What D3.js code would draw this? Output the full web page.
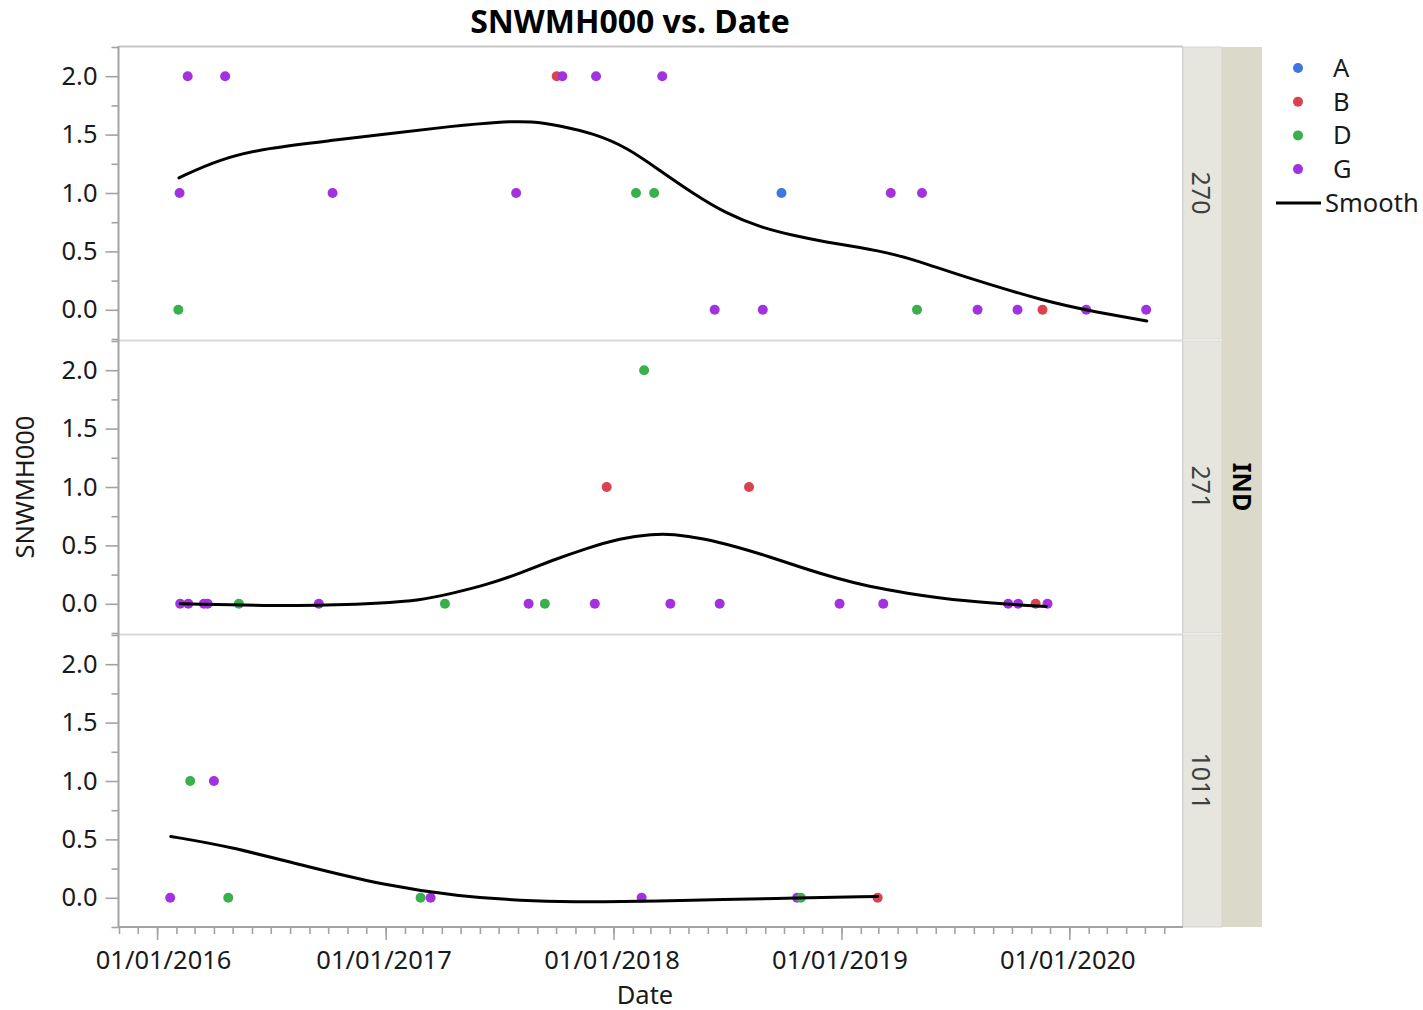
<!DOCTYPE html>
<html><head><meta charset="utf-8">
<script src="https://cdn.jsdelivr.net/npm/d3@7"></script>
<style>
body{margin:0;background:#fff}
text{font-family:"Noto Sans","Open Sans",sans-serif;fill:#1a1a1a}
</style>
</head><body>
<svg id="chart" width="1423" height="1010"></svg>
<script>
// ---------- DATA ----------
const groups = ["A", "B", "D", "G"];
const groupColors = ["#3f76e0", "#da4250", "#39b04b", "#a232e0"];
const panelNames = ["270", "271", "1011"];
const facetName = "IND";
const yTickValues = [0, 0.5, 1.0, 1.5, 2.0];
const yMinorValues = [-0.25, 0.25, 0.75, 1.25, 1.75, 2.25];
const xTickDates = ["2016-01-01", "2017-01-01", "2018-01-01", "2019-01-01", "2020-01-01"];

// panel 270
const p270Dates = ["2016-02-04","2016-02-06","2016-02-19","2016-04-19","2016-10-08","2017-07-29","2017-10-02","2017-10-11","2017-12-04","2018-02-06","2018-03-07","2018-03-20","2018-06-12","2018-08-28","2018-09-27","2019-03-21","2019-05-02","2019-05-10","2019-08-07","2019-10-10","2019-11-19","2020-01-28","2020-05-03"];
const p270Values = [0,1,2,2,1,1,2,2,2,1,1,2,0,0,1,1,0,1,0,0,0,0,0];
const p270Groups = ["D","G","G","G","G","G","B","G","G","D","D","G","G","G","A","G","D","G","G","G","B","G","G"];

// panel 271
const p271Dates = ["2016-02-07","2016-02-20","2016-03-16","2016-03-22","2016-05-11","2016-09-16","2017-04-06","2017-08-18","2017-09-13","2017-12-02","2017-12-21","2018-02-19","2018-04-02","2018-06-20","2018-08-06","2018-12-29","2019-03-09","2019-09-25","2019-10-11","2019-11-08","2019-11-27"];
const p271Values = [0,0,0,0,0,0,0,0,0,0,1,2,0,0,1,0,0,0,0,0,0];
const p271Groups = ["G","G","G","G","D","G","D","G","D","G","B","D","G","G","B","G","G","G","G","B","G"];

// panel 1011
const p1011Dates = ["2016-01-22","2016-02-23","2016-04-01","2016-04-24","2017-02-26","2017-03-14","2018-02-15","2018-10-22","2018-10-28","2019-02-28"];
const p1011Values = [0,1,1,0,0,0,0,0,0,0];
const p1011Groups = ["G","D","G","D","D","G","G","G","D","B"];

// smoother curves
const s270Dates = ["2016-02-05","2016-04-10","2016-06-24","2016-10-08","2017-01-24","2017-04-14","2017-07-02","2017-08-24","2017-10-07","2017-11-30","2018-01-22","2018-03-16","2018-05-09","2018-07-01","2018-08-24","2018-10-16","2018-12-08","2019-01-30","2019-03-25","2019-05-17","2019-07-10","2019-11-26","2020-02-14","2020-05-04"];
const s270Values = [1.13,1.29,1.385,1.45,1.52,1.57,1.61,1.615,1.577,1.51,1.392,1.193,0.993,0.822,0.707,0.636,0.579,0.536,0.479,0.394,0.294,0.067,-0.02,-0.096];

const s271Dates = ["2016-02-07","2016-08-26","2016-12-27","2017-02-24","2017-04-18","2017-06-11","2017-08-04","2017-09-26","2017-11-19","2018-01-11","2018-03-05","2018-04-06","2018-05-24","2018-07-17","2018-09-08","2018-11-01","2018-12-24","2019-02-15","2019-04-10","2019-07-14","2019-11-25"];
const s271Values = [0.0,-0.023,0.006,0.027,0.09,0.161,0.261,0.375,0.475,0.561,0.598,0.598,0.561,0.489,0.403,0.304,0.218,0.146,0.095,0.02,-0.023];

const s1011Dates = ["2016-01-23","2016-04-26","2016-08-26","2016-12-27","2017-04-28","2017-08-29","2017-12-10","2018-05-11","2018-09-10","2019-02-28"];
const s1011Values = [0.525,0.44,0.27,0.11,0.011,-0.031,-0.037,-0.02,-0.006,0.011];

// ---------- BUILD ----------
const parse = d3.timeParse("%Y-%m-%d");
const panels = [
  {name: panelNames[0], dates: p270Dates, values: p270Values, groups: p270Groups, sd: s270Dates, sv: s270Values},
  {name: panelNames[1], dates: p271Dates, values: p271Values, groups: p271Groups, sd: s271Dates, sv: s271Values},
  {name: panelNames[2], dates: p1011Dates, values: p1011Values, groups: p1011Groups, sd: s1011Dates, sv: s1011Values}
];

const svg = d3.select("#chart");
const plotL = 119, plotR = 1183;
const top0 = 47, panelH = 292, panelStep = 294;
const axisY = top0 + 2 * panelStep + panelH; // 927
const axisColor = "#a3a3a3";
const fs = "25.5px";

const x = d3.scaleTime().domain([parse("2015-11-01"), parse("2020-07-01")]).range([plotL, plotR]);
const color = d3.scaleOrdinal().domain(groups).range(groupColors);

// title
svg.append("text").attr("x", 630).attr("y", 33).attr("text-anchor", "middle")
  .style("font-size", "32px").style("font-weight", "bold").style("fill", "#000")
  .text("SNWMH000 vs. Date");

// outer strip
svg.append("rect").attr("x", plotR + 39).attr("y", top0).attr("width", 40).attr("height", axisY - top0)
  .attr("fill", "#dbd9ca");

panels.forEach((p, i) => {
  const top = top0 + i * panelStep;
  const y = d3.scaleLinear().domain([-0.25, 2.25]).range([top + panelH, top]);
  const g = svg.append("g");

  g.append("line").attr("x1", plotL).attr("x2", plotR).attr("y1", top - 0.5).attr("y2", top - 0.5)
    .attr("stroke", i === 0 ? "#c8c8c8" : "#dadada").attr("stroke-width", 2);

  // inner strip
  svg.append("rect").attr("x", plotR).attr("y", top).attr("width", 39).attr("height", panelH)
    .attr("fill", "#e6e6df").attr("stroke", "#d6d6d0").attr("stroke-width", 1);
  svg.append("text").attr("transform", `translate(${plotR + 18},${top + panelH / 2}) rotate(90)`)
    .attr("text-anchor", "middle").attr("dy", "0.35em")
    .style("font-size", "25px").style("fill", "#404040").text(p.name);

  // y axis
  const ya = d3.axisLeft(y).tickValues(yTickValues).tickSize(13).tickPadding(8).tickFormat(d3.format(".1f"));
  const yg = g.append("g").attr("transform", `translate(${plotL - 0.5},0)`).call(ya);
  yg.select(".domain").remove();
  yg.selectAll(".tick line").attr("stroke", axisColor).attr("stroke-width", 1.6);
  yg.selectAll(".tick text").style("font-size", fs).style("font-family", '"Noto Sans",sans-serif').attr("fill", "#1a1a1a");
  const ym = d3.axisLeft(y).tickValues(yMinorValues).tickSize(7).tickFormat("");
  const ymg = g.append("g").attr("transform", `translate(${plotL - 0.5},0)`).call(ym);
  ymg.select(".domain").remove();
  ymg.selectAll(".tick line").attr("stroke", axisColor).attr("stroke-width", 1.6);

  // points
  const pts = p.dates.map((d, k) => ({date: parse(d), value: p.values[k], group: p.groups[k]}));
  g.selectAll("circle.pt").data(pts).enter().append("circle").attr("class", "pt")
    .attr("cx", d => x(d.date)).attr("cy", d => y(d.value)).attr("r", 5)
    .attr("fill", d => color(d.group));

  // smooth
  const sm = p.sd.map((d, k) => ({date: parse(d), value: p.sv[k]}));
  const line = d3.line().x(d => x(d.date)).y(d => y(d.value)).curve(d3.curveBasis);
  g.append("path").datum(sm).attr("d", line).attr("fill", "none").attr("stroke", "#000")
    .attr("stroke-width", 3).attr("stroke-linecap", "round");
});

svg.append("line").attr("x1", plotR - 0.5).attr("x2", plotR - 0.5).attr("y1", top0).attr("y2", axisY)
  .attr("stroke", "#d4d4d4").attr("stroke-width", 1);

svg.append("text").attr("transform", `translate(${plotR + 59},${top0 + (axisY - top0) / 2}) rotate(90)`)
  .attr("text-anchor", "middle").attr("dy", "0.35em")
  .style("font-size", "25px").style("font-weight", "bold").style("fill", "#000").text(facetName);

svg.append("line").attr("x1", plotL - 0.5).attr("x2", plotL - 0.5).attr("y1", top0 - 1).attr("y2", axisY + 1)
  .attr("stroke", axisColor).attr("stroke-width", 2);

// x axis
const fmt = d3.timeFormat("%m/%d/%Y");
const xa = d3.axisBottom(x).tickValues(xTickDates.map(parse)).tickSize(13).tickPadding(11).tickFormat(fmt);
const xg = svg.append("g").attr("transform", `translate(0,${axisY})`).call(xa);
xg.select(".domain").remove();
xg.selectAll(".tick line").attr("stroke", axisColor).attr("stroke-width", 1.6);
xg.selectAll(".tick text").style("font-size", fs).style("font-family", '"Noto Sans",sans-serif')
  .attr("fill", "#1a1a1a").attr("dx", (d, k) => k === 0 ? 6 : -2);
const xm = d3.axisBottom(x).tickValues(d3.timeMonth.range(x.domain()[0], x.domain()[1])).tickSize(7).tickFormat("");
const xmg = svg.append("g").attr("transform", `translate(0,${axisY})`).call(xm);
xmg.select(".domain").remove();
xmg.selectAll(".tick line").attr("stroke", axisColor).attr("stroke-width", 1.6);
svg.append("line").attr("x1", plotL - 1).attr("x2", plotR).attr("y1", axisY).attr("y2", axisY)
  .attr("stroke", axisColor).attr("stroke-width", 2);

// axis titles
svg.append("text").attr("x", 645).attr("y", 1004).attr("text-anchor", "middle")
  .style("font-size", fs).text("Date");
svg.append("text").attr("transform", "translate(34,487) rotate(-90)").attr("text-anchor", "middle")
  .style("font-size", fs).text("SNWMH000");

// legend
const lg = svg.append("g");
groups.forEach((gname, i) => {
  const cy = 68 + i * 33.7;
  lg.append("circle").attr("cx", 1298).attr("cy", cy).attr("r", 5).attr("fill", color(gname));
  lg.append("text").attr("x", 1333).attr("y", cy).attr("dy", "0.35em").style("font-size", fs).text(gname);
});
lg.append("line").attr("x1", 1276).attr("x2", 1321).attr("y1", 203).attr("y2", 203).attr("stroke", "#000").attr("stroke-width", 3);
lg.append("text").attr("x", 1325).attr("y", 203).attr("dy", "0.35em").style("font-size", fs).text("Smooth");
</script>
</body></html>
